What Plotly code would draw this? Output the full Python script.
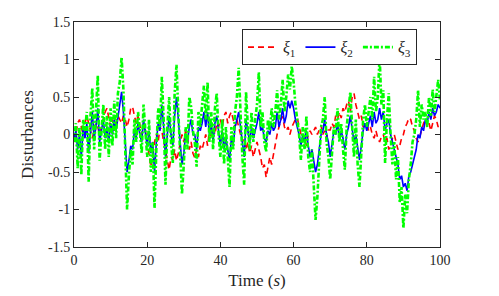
import plotly.graph_objects as go

# time axis: 0..100 s, step 0.5 s
time_s = [i * 0.5 for i in range(201)]

xi1 = [
    -0.1, 0.0, 0.15, 0.2, 0.1, 0.0, 0.15, 0.25, 0.15, 0.05,
    -0.05, 0.05, 0.15, 0.1, 0.0, 0.1, 0.2, 0.3, 0.35, 0.2,
    0.1, 0.2, 0.05, 0.15, 0.25, 0.2, 0.15, 0.25, 0.2, 0.1,
    0.2, 0.35, 0.37, 0.25, 0.15, 0.25, 0.1, 0.0, 0.15, 0.05,
    -0.1, -0.25, -0.43, -0.3, -0.1, 0.0, -0.1, 0.1, 0.05, -0.1,
    -0.2, -0.35, -0.47, -0.3, -0.35, -0.2, -0.35, -0.25, -0.1, 0.0,
    -0.1, 0.05, -0.05, -0.2, -0.1, -0.25, -0.31, -0.2, -0.3, -0.15,
    -0.2, -0.1, 0.0, -0.15, 0.05, -0.05, 0.1, 0.0, 0.15, 0.1,
    0.2, 0.1, 0.25, 0.3, 0.15, 0.25, 0.3, 0.2, 0.1, 0.2,
    0.1, 0.0, -0.1, -0.05, -0.2, -0.1, -0.25, -0.15, -0.3, -0.2,
    -0.1, -0.2, -0.3, -0.45, -0.4, -0.57, -0.45, -0.3, -0.4, -0.25,
    -0.1, 0.0, 0.1, 0.2, 0.24, 0.1, 0.05, 0.1, 0.0, 0.1,
    0.15, 0.2, 0.22, 0.1, 0.0, -0.1, -0.05, -0.15, 0.0, 0.05,
    0.0, 0.05, 0.1, 0.0, 0.05, 0.12, 0.0, 0.05, -0.05, 0.06,
    0.06, 0.15, 0.1, 0.25, 0.2, 0.3, 0.22, 0.35, 0.3, 0.4,
    0.45, 0.3, 0.5, 0.55, 0.4, 0.3, 0.2, 0.25, 0.1, 0.15,
    0.15, 0.05, 0.1, 0.0, -0.05, 0.05, -0.05, -0.1, -0.03, 0.0,
    -0.1, -0.05, -0.2, -0.15, -0.05, 0.0, -0.1, -0.2, -0.15, -0.05,
    0.0, 0.1, 0.15, 0.22, 0.2, 0.1, 0.05, -0.05, -0.1, 0.0,
    0.06, 0.15, 0.2, 0.1, 0.15, 0.05, 0.15, 0.25, 0.2, 0.1,
    0.15,
]

xi2 = [
    -0.05, 0.05, -0.2, 0.0, -0.3, 0.1, -0.05, 0.15, -0.25, 0.05,
    0.3, -0.05, 0.1, 0.35, -0.1, 0.05, 0.2, -0.05, 0.1, -0.1,
    0.15, 0.0, 0.2, 0.05, 0.25, 0.4, 0.57, 0.3, -0.1, -0.5,
    -0.35, -0.15, -0.2, 0.05, -0.05, 0.15, 0.0, -0.1, 0.2, 0.05,
    -0.15, 0.05, -0.25, -0.1, -0.5, -0.1, 0.15, 0.05, 0.4, 0.1,
    -0.3, 0.0, 0.25, 0.0, -0.15, 0.25, 0.5, 0.2, -0.1, -0.4,
    -0.25, 0.0, -0.1, 0.1, 0.2, 0.0, 0.0, -0.2, 0.1, 0.05,
    0.15, 0.3, 0.1, 0.3, 0.0, 0.15, -0.1, 0.15, 0.25, 0.0,
    -0.15, 0.05, -0.2, -0.05, -0.2, -0.35, -0.05, -0.15, 0.1, 0.2,
    0.3, 0.1, -0.1, -0.3, 0.2, 0.05, -0.1, 0.1, -0.05, 0.05,
    0.15, 0.3, 0.05, 0.1, -0.05, -0.1, 0.05, 0.0, 0.15, 0.05,
    0.1, 0.3, 0.1, 0.2, 0.35, 0.15, 0.25, 0.45, 0.35, 0.45,
    0.35, 0.2, 0.1, 0.0, -0.15, 0.0, -0.1, 0.05, -0.15, -0.3,
    -0.2, -0.35, -0.5, -0.4, -0.15, 0.0, 0.05, 0.2, 0.0, -0.1,
    -0.3, -0.1, 0.05, 0.0, 0.15, -0.05, 0.05, -0.05, -0.2, 0.0,
    0.1, 0.25, 0.05, -0.1, 0.0, -0.2, -0.34, -0.15, 0.05, 0.15,
    0.05, 0.15, 0.25, 0.1, 0.3, 0.15, 0.2, 0.35, 0.2, 0.3,
    0.05, 0.15, 0.2, 0.0, -0.1, -0.2, -0.3, -0.4, -0.6, -0.55,
    -0.7, -0.65, -0.75, -0.55, -0.5, -0.4, -0.3, -0.2, 0.0, -0.05,
    0.1, 0.05, 0.2, 0.15, 0.3, 0.2, 0.35, 0.25, 0.3, 0.4,
    0.35,
]

xi3 = [
    -0.1, 0.15, -0.45, 0.1, -0.54, 0.2, 0.05, 0.3, -0.63, 0.25,
    0.62, -0.2, 0.3, 0.79, -0.35, 0.1, 0.4, -0.2, 0.25, -0.3,
    0.35, -0.15, 0.45, -0.05, 0.55, 0.7, 1.03, 0.6, -0.3, -1.0,
    -0.55, -0.2, -0.4, 0.2, -0.1, 0.3, 0.05, -0.25, 0.4, 0.1,
    -0.3, 0.2, -0.5, -0.1, -0.98, -0.2, 0.35, 0.1, 0.77, 0.2,
    -0.67, 0.1, 0.5, -0.1, -0.38, 0.55, 0.93, 0.3, -0.3, -0.8,
    -0.4, 0.1, -0.2, 0.5, 0.37, 0.05, -0.1, -0.43, 0.3, 0.1,
    0.4, 0.65, 0.2, 0.7, -0.1, 0.3, -0.2, 0.35, 0.55, 0.0,
    -0.3, 0.2, -0.4, 0.1, -0.3, -0.7, 0.1, -0.2, 0.3, 0.5,
    0.89, 0.2, -0.3, -0.67, 0.57, 0.1, -0.2, 0.3, -0.1, 0.2,
    0.4, 0.83, 0.1, 0.3, -0.1, -0.23, 0.2, 0.05, 0.35, 0.1,
    0.3, 0.59, 0.2, 0.4, 0.73, 0.3, 0.5, 0.8, 0.6, 0.91,
    0.7, 0.4, 0.2, 0.0, -0.34, 0.1, -0.2, 0.25, -0.3, -0.5,
    -0.2, -0.6, -1.14, -0.83, -0.3, 0.1, 0.2, 0.5, -0.1, -0.3,
    -0.6, -0.2, 0.1, 0.0, 0.35, -0.1, 0.15, -0.2, -0.47, 0.1,
    0.3, 0.57, 0.1, -0.3, 0.2, -0.4, -0.7, -0.3, 0.2, 0.4,
    0.1, 0.3, 0.5, 0.2, 0.77, 0.3, 0.5, 1.05, 0.4, 0.59,
    -0.38, 0.2, 0.55, 0.0, -0.4, -0.1, -0.6, -0.3, -0.9, -0.7,
    -1.25, -0.8, -1.05, -0.6, -0.4, -0.1, 0.0, 0.2, 0.59, 0.1,
    0.4, 0.2, 0.3, 0.1, 0.5, 0.25, 0.6, 0.3, 0.5, 0.73,
    0.45,
]

x_ticks = [0, 20, 40, 60, 80, 100]
y_ticks = [-1.5, -1, -0.5, 0, 0.5, 1, 1.5]
y_tick_labels = ["-1.5", "-1", "-0.5", "0", "0.5", "1", "1.5"]

FONT = "Liberation Serif, Times New Roman, serif"
AX = "#262626"

fig = go.Figure()
fig.add_trace(go.Scatter(x=time_s, y=xi1, mode="lines", name="<i>ξ</i><sub>1</sub>",
                         line=dict(color="#ff0000", width=1.6, dash="6px,4px")))
fig.add_trace(go.Scatter(x=time_s, y=xi2, mode="lines", name="<i>ξ</i><sub>2</sub>",
                         line=dict(color="#0000ff", width=1.6)))
fig.add_trace(go.Scatter(x=time_s, y=xi3, mode="lines", name="<i>ξ</i><sub>3</sub>",
                         line=dict(color="#00ff00", width=2.6, dash="5px,2px,2px,2px")))

axis_common = dict(showline=True, linecolor=AX, linewidth=1, mirror="ticks",
                   ticks="inside", ticklen=5, tickcolor=AX, showgrid=False,
                   zeroline=False, automargin=False,
                   tickfont=dict(family=FONT, size=14, color="#262626"))

fig.update_xaxes(range=[0, 100], tickvals=x_ticks,
                 title=dict(text="Time (<i>s</i>)", font=dict(family=FONT, size=17, color="#262626"), standoff=7),
                 **axis_common)
fig.update_yaxes(range=[-1.5, 1.5], tickvals=y_ticks, ticktext=y_tick_labels,
                 title=dict(text="Disturbances", font=dict(family=FONT, size=17, color="#262626"), standoff=10),
                 **axis_common)

# page body adds an 8px offset; figure sized so the plot box lands at x 73.5-440, y 22-247
fig.update_layout(
    width=491, height=288,
    margin=dict(l=65.5, r=59, t=14, b=49, autoexpand=False),
    paper_bgcolor="white", plot_bgcolor="white",
    showlegend=True,
    legend=dict(orientation="h", x=0.459, y=0.968, xanchor="left", yanchor="top",
                bgcolor="white", bordercolor=AX, borderwidth=1,
                font=dict(family=FONT, size=16, color="#262626"),
                itemwidth=30, tracegroupgap=0),
)

fig.write_html("out.html")
